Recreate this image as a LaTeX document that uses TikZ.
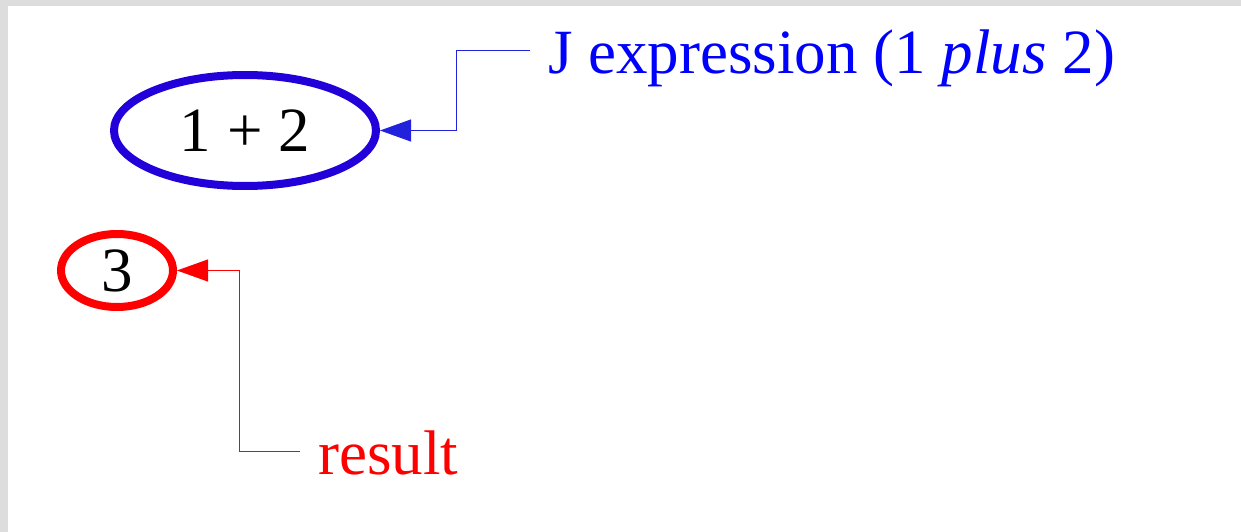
\documentclass[tikz,border=0pt]{standalone}
\usepackage{fontspec}
\setmainfont{Liberation Serif}
\newfontfamily\timesface{Liberation Serif}
\usetikzlibrary{shapes.geometric,arrows.meta}
\definecolor{ringblue}{RGB}{34,0,217}
\definecolor{linkblue}{RGB}{34,34,221}
\definecolor{frame}{RGB}{221,221,221}
\tikzset{
  big/.style={font=\timesface\fontsize{63}{70}\selectfont},
  ring/.style={ellipse, draw, inner sep=0pt, line width=8pt, big, text=black},
  callout/.style={line width=1pt, -{Triangle[length=31pt,width=22pt]}},
  tag/.style={anchor=base west, inner sep=0pt, big},
}
\begin{document}
\begin{tikzpicture}[x=1pt,y=-1pt]
  % page frame
  \fill[frame] (0,0) rectangle (1241,532);
  \fill[white] (7.5,6) rectangle (1241,532);
  \useasboundingbox (0,0) rectangle (1241,532);

  % expression and its value
  \node[ring, draw=ringblue, minimum width=262pt, minimum height=111pt] (expr) at (245,130.5) {1 + 2};
  \node[ring, draw=red, minimum width=112pt, minimum height=73pt] (val) at (117,270.5) {3};

  % labels
  \node[tag, text=blue] (jlab) at (548,74) {J expression (1 \textit{plus} 2)};
  \node[tag, text=red] (rlab) at (318,474) {result};

  % label callouts
  \coordinate (jend) at (530,51);
  \coordinate (jbend) at (456,51);
  \draw[callout, draw=linkblue] (jend) -- (jbend) |- (expr.east);

  \coordinate (rend) at (300,451);
  \coordinate (rbend) at (239,451);
  \draw[callout, draw=red] (rend) -- (rbend) |- (val.east);
\end{tikzpicture}
\end{document}
